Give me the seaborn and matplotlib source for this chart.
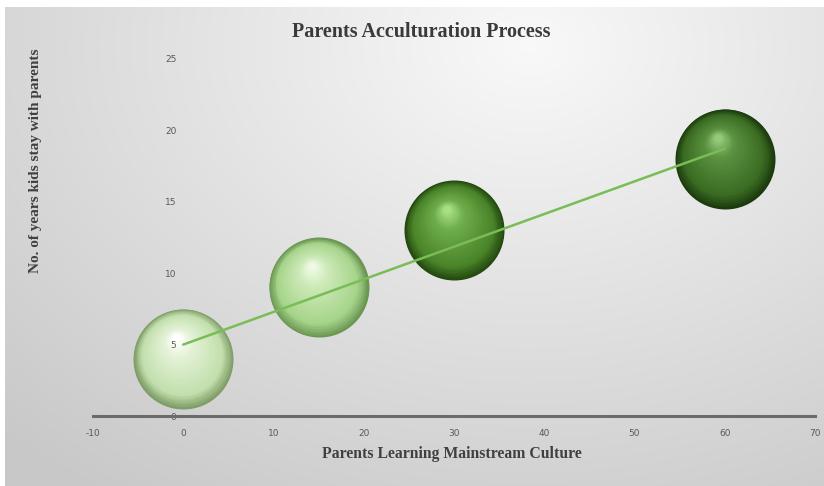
import numpy as np
import pandas as pd
import matplotlib
matplotlib.use('Agg')
import matplotlib.pyplot as plt
import seaborn as sns
from matplotlib.colors import LinearSegmentedColormap
from matplotlib.transforms import ScaledTranslation

# data
culture = [0, 15, 30, 60]
years = [4, 9, 13, 18]
bubble_size = [1, 1, 1, 1]
x_ticks = [-10, 0, 10, 20, 30, 40, 50, 60, 70]
y_ticks = [0, 5, 10, 15, 20, 25]

# edge / body / light / highlight for each sphere
sphere_colors = [
    ['#7f9d68', '#c2dfad', '#e3f2d6', '#ffffff'],
    ['#6a9552', '#a6d48a', '#cdeab8', '#eefae4'],
    ['#23480f', '#4a8429', '#6fae4c', '#a6e084'],
    ['#1b3a0d', '#3a6b22', '#5a9240', '#93c978'],
]

df = pd.DataFrame({'culture': culture, 'years': years, 'size': bubble_size})

sns.set_style('white')
plt.rcParams['font.family'] = ['DejaVu Sans']
plt.rcParams['axes.unicode_minus'] = False

fig = plt.figure(figsize=(8.24, 4.86), dpi=100)

# gradient background with thin white border on top/left
bg = fig.add_axes([0, 0, 1, 1], zorder=-10)
bg.set_xlim(0, 1)
bg.set_ylim(0, 1)
bg.axis('off')
u, v = np.meshgrid(np.linspace(0, 1, 400), np.linspace(0, 1, 240))
d = np.sqrt(((u - 0.64) * 1.25) ** 2 + (v - 0.92) ** 2)
shade = 0.975 - 0.19 * np.clip(d / 1.15, 0, 1)
bg.imshow(np.dstack([shade] * 3), extent=[5 / 824, 1, 0, 1 - 8 / 486],
          origin='lower', aspect='auto', interpolation='bilinear')

ax = fig.add_axes([93 / 824, 70 / 486, 722 / 824, 357 / 486])
ax.set_facecolor('none')
ax.set_xlim(-10, 70)
ax.set_ylim(0, 25)

# spheres: stacked circles getting lighter toward an upper-left highlight
R = 36.0  # radius in points for size 1
n = 45
for i, row in df.iterrows():
    cmap = LinearSegmentedColormap.from_list(
        'sph', list(zip([0, 0.2, 0.75, 1], sphere_colors[i])))
    r0 = R * np.sqrt(row['size'])
    for k in range(n):
        t = k / (n - 1)
        r = r0 * (1 - 0.93 * t)
        off = ScaledTranslation(-0.14 * r0 * t / 72, 0.42 * r0 * t / 72, fig.dpi_scale_trans)
        ax.scatter([row['culture']], [row['years']], s=(2 * r) ** 2, color=cmap(t),
                   linewidths=0, transform=ax.transData + off, zorder=2 + k * 0.01,
                   clip_on=False)

# linear trendline
sns.regplot(data=df, x='culture', y='years', scatter=False, ci=None, ax=ax,
            line_kws={'color': '#78bd55', 'lw': 1.8, 'zorder': 5})

# horizontal axis drawn at y=0, vertical axis crosses at x=0 without a line
ax.spines['bottom'].set_position(('data', 0))
ax.spines['bottom'].set_color('#6b6b6b')
ax.spines['bottom'].set_linewidth(2.2)
ax.spines['bottom'].set_zorder(12)
ax.spines['left'].set_position(('data', 0))
ax.spines['left'].set_visible(False)
ax.spines['top'].set_visible(False)
ax.spines['right'].set_visible(False)
ax.yaxis.set_zorder(10)

ax.set_xticks(x_ticks)
ax.set_yticks(y_ticks)
ax.tick_params(axis='both', length=0, labelsize=6.5, labelcolor='#595959')
ax.tick_params(axis='x', pad=9)
ax.tick_params(axis='y', pad=5)

ax.set_xlabel('Parents Learning Mainstream Culture', family='Liberation Serif',
              fontweight='bold', fontsize=11.3, color='#404040')
ax.xaxis.set_label_coords(0.497, -0.085)
ax.set_ylabel('No. of years kids stay with parents', family='Liberation Serif',
              fontweight='bold', fontsize=11, color='#404040')
ax.yaxis.set_label_coords(-0.071, 0.714)

fig.text(421 / 824, 1 - 32 / 486, 'Parents Acculturation Process', ha='center',
         va='center', family='Liberation Serif', fontweight='bold', fontsize=14.5,
         color='#3a3a3a')

fig.savefig('out.png', dpi=100)
